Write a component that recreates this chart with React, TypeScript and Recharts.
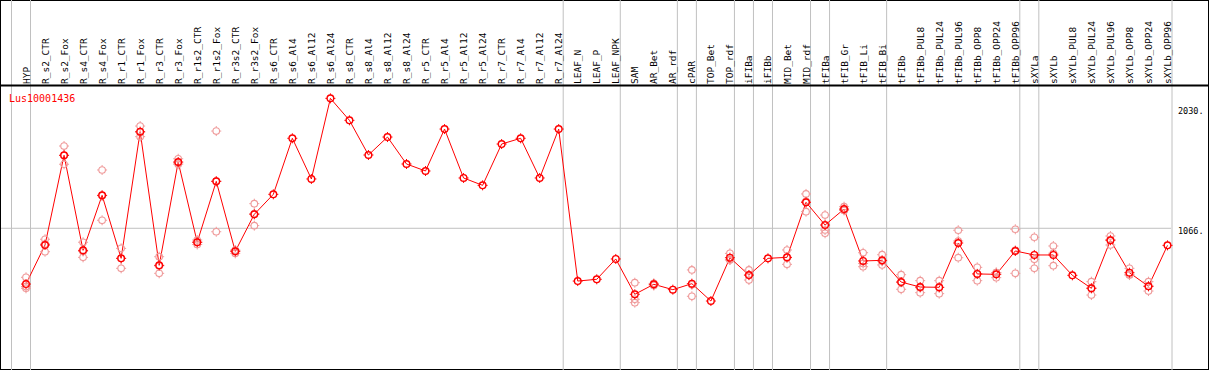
import { Legend, Line, LineChart, ReferenceLine, XAxis, YAxis } from "recharts";

const seriesName = "Lus10001436";

const categories = [
  "HYP", "R_s2_CTR", "R_s2_Fox", "R_s4_CTR", "R_s4_Fox", "R_r1_CTR", "R_r1_Fox", "R_r3_CTR", "R_r3_Fox", "R_r1s2_CTR",
  "R_r1s2_Fox", "R_r3s2_CTR", "R_r3s2_Fox", "R_s6_CTR", "R_s6_Al4", "R_s6_Al12", "R_s6_Al24", "R_s8_CTR", "R_s8_Al4", "R_s8_Al12",
  "R_s8_Al24", "R_r5_CTR", "R_r5_Al4", "R_r5_Al12", "R_r5_Al24", "R_r7_CTR", "R_r7_Al4", "R_r7_Al12", "R_r7_Al24", "LEAF_N",
  "LEAF_P", "LEAF_NPK", "SAM", "AR_Bet", "AR_rdf", "cPAR", "TOP_Bet", "TOP_rdf", "iFIBa", "iFIBb",
  "MID_Bet", "MID_rdf", "tFIBa", "tFIB_Gr", "tFIB_Li", "tFIB_Bi", "tFIBb", "tFIBb_PUL8", "tFIBb_PUL24", "tFIBb_PUL96",
  "tFIBb_OPP8", "tFIBb_OPP24", "tFIBb_OPP96", "sXYLa", "sXYLb", "sXYLb_PUL8", "sXYLb_PUL24", "sXYLb_PUL96", "sXYLb_OPP8", "sXYLb_OPP24",
  "sXYLb_OPP96",
];

// mean expression per sample
const means = [
  619, 932, 1651, 889, 1330, 825, 1840, 769, 1597, 954,
  1442, 881, 1178, 1338, 1787, 1461, 2107, 1931, 1653, 1797,
  1581, 1525, 1861, 1469, 1410, 1741, 1787, 1469, 1861, 643,
  657, 820, 537, 617, 574, 622, 483, 830, 691, 825,
  833, 1274, 1092, 1220, 804, 809, 635, 595, 593, 948,
  700, 697, 884, 852, 852, 689, 585, 970, 710, 601,
  929,
];

// replicates (null = single sample)
const repHigh = [
  673, 978, 1725, 954, 1533, 905, 1885, 838, 1623, 972,
  1845, 892, 1263, null, null, null, null, null, null, null,
  null, null, null, null, null, null, null, null, null, null,
  null, null, 630, 625, null, 732, null, 865, 732, null,
  892, 1341, 1172, 1239, 870, 854, 694, 646, 646, 1050,
  753, 711, 1058, 994, 924, null, 638, 1004, 745, 638,
  null,
];
const repMid = [
  599, 940, 1649, 880, 1327, 825, 1835, 764, 1589, 954,
  1443, 886, 1184, null, null, null, null, null, null, null,
  null, null, null, null, null, null, null, null, null, null,
  null, null, 497, 619, null, 613, null, 813, 690, null,
  830, 1282, 1052, 1212, 784, 801, 634, 589, 591, 964,
  701, 710, 889, 817, 866, null, 586, 974, 694, 602,
  null,
];
const repLow = [
  585, 878, 1579, 833, 1130, 745, 1800, 705, 1579, 936,
  1038, 865, 1087, null, null, null, null, null, null, null,
  null, null, null, null, null, null, null, null, null, null,
  null, null, 470, 607, null, 521, null, 812, 651, null,
  777, 1199, 1026, 1209, 758, 772, 577, 550, 542, 830,
  646, 670, 705, 745, 766, null, 531, 932, 691, 563,
  null,
];

const yTicks = [0, 1066, 2030];
const yDomain = [-61.7, 2210];
const gridValue = 1066;

// last sample of each group
const groupEnds = [
  "HYP", "R_r7_Al24", "LEAF_NPK", "AR_rdf", "cPAR", "TOP_rdf", "iFIBa", "iFIBb",
  "MID_rdf", "tFIBa", "tFIB_Bi", "tFIBb_OPP96", "sXYLa", "sXYLb_OPP96",
];

const MONO = "'DejaVu Sans Mono', monospace";
const RED = "#ff0000";
const PINK = "#ef9a9a";
const GRID = "#c0c0c0";

const data = categories.map((name, i) => ({
  name,
  mean: means[i],
  repHigh: repHigh[i],
  repMid: repMid[i],
  repLow: repLow[i],
}));

const CategoryTick = (props: any) => {
  const { x, y, payload } = props;
  const tx = x + 3.5;
  return (
    <text x={tx} y={y} transform={`rotate(-90 ${tx} ${y})`} fontFamily={MONO} fontSize={9.5} fill="#000">
      {payload.value}
    </text>
  );
};

const ValueTick = (props: any) => {
  const { x, y, payload } = props;
  return (
    <text x={x} y={y + 6} fontFamily={MONO} fontSize={8.5} fill="#000">
      {`${payload.value}.`}
    </text>
  );
};

const makeDot = (color: string, width: number) => (p: any) => {
  const k = `${p.dataKey}-${p.index}`;
  if (p.cx == null || p.cy == null || p.value == null) return <g key={k} />;
  const { cx, cy } = p;
  return (
    <g key={k}>
      <circle cx={cx} cy={cy} r={3.3} fill="none" stroke={color} strokeWidth={width} />
      <path
        d={`M${cx} ${cy - 5}v1.6M${cx} ${cy + 3.4}v1.6M${cx - 5} ${cy}h1.6M${cx + 3.4} ${cy}h1.6`}
        stroke={color}
        strokeWidth={1}
      />
    </g>
  );
};

const vSep = (dx: number) => (p: any) => (
  <line x1={p.x1 + dx} x2={p.x1 + dx} y1={0} y2={370} stroke={GRID} strokeWidth={1} />
);

const hLine = (color: string, width: number, x1: number, x2: number) => (p: any) => (
  <line x1={x1} x2={x2} y1={p.y1} y2={p.y1} stroke={color} strokeWidth={width} />
);

export default function App() {
  return (
    <div
      style={{
        position: "absolute",
        left: 0,
        top: 0,
        width: 1209,
        height: 370,
        boxSizing: "border-box",
        border: "1px solid #000",
        background: "#fff",
      }}
    >
      <div style={{ position: "absolute", left: -1, top: -1 }}>
        <LineChart width={1209} height={370} data={data} margin={{ top: 0, right: 0, bottom: 1, left: 16.5 }}>
          <XAxis
            dataKey="name"
            orientation="top"
            height={85.5}
            interval={0}
            padding={{ left: 9.5, right: 9.5 }}
            axisLine={false}
            tickLine={false}
            tickSize={0}
            tickMargin={1.5}
            tick={CategoryTick}
          />
          <YAxis
            orientation="right"
            width={32}
            domain={yDomain}
            allowDataOverflow
            ticks={yTicks}
            axisLine={false}
            tickLine={false}
            tickSize={0}
            tickMargin={1}
            tick={ValueTick}
          />
          <ReferenceLine y={gridValue} ifOverflow="visible" shape={hLine(GRID, 1, 1, 1171)} />
          <ReferenceLine x={categories[0]} ifOverflow="visible" shape={vSep(-14.5)} />
          {groupEnds.map((c) => (
            <ReferenceLine key={c} x={c} ifOverflow="visible" shape={vSep(4.5)} />
          ))}
          <ReferenceLine y={yDomain[1]} ifOverflow="visible" shape={hLine("#000", 2, 0, 1209)} />
          <Legend
            layout="horizontal"
            verticalAlign="middle"
            wrapperStyle={{ top: 87.5, left: 9 }}
            content={() => (
              <span style={{ color: RED, fontFamily: MONO, fontSize: 10, lineHeight: "10px", whiteSpace: "nowrap" }}>
                {seriesName}
              </span>
            )}
          />
          <Line dataKey="repHigh" stroke="none" legendType="none" dot={makeDot(PINK, 1.1)} activeDot={false} isAnimationActive={false} />
          <Line dataKey="repMid" stroke="none" legendType="none" dot={makeDot(PINK, 1.1)} activeDot={false} isAnimationActive={false} />
          <Line dataKey="repLow" stroke="none" legendType="none" dot={makeDot(PINK, 1.1)} activeDot={false} isAnimationActive={false} />
          <Line
            dataKey="mean"
            name={seriesName}
            stroke={RED}
            strokeWidth={1}
            dot={makeDot(RED, 1.4)}
            activeDot={false}
            isAnimationActive={false}
          />
        </LineChart>
      </div>
    </div>
  );
}
